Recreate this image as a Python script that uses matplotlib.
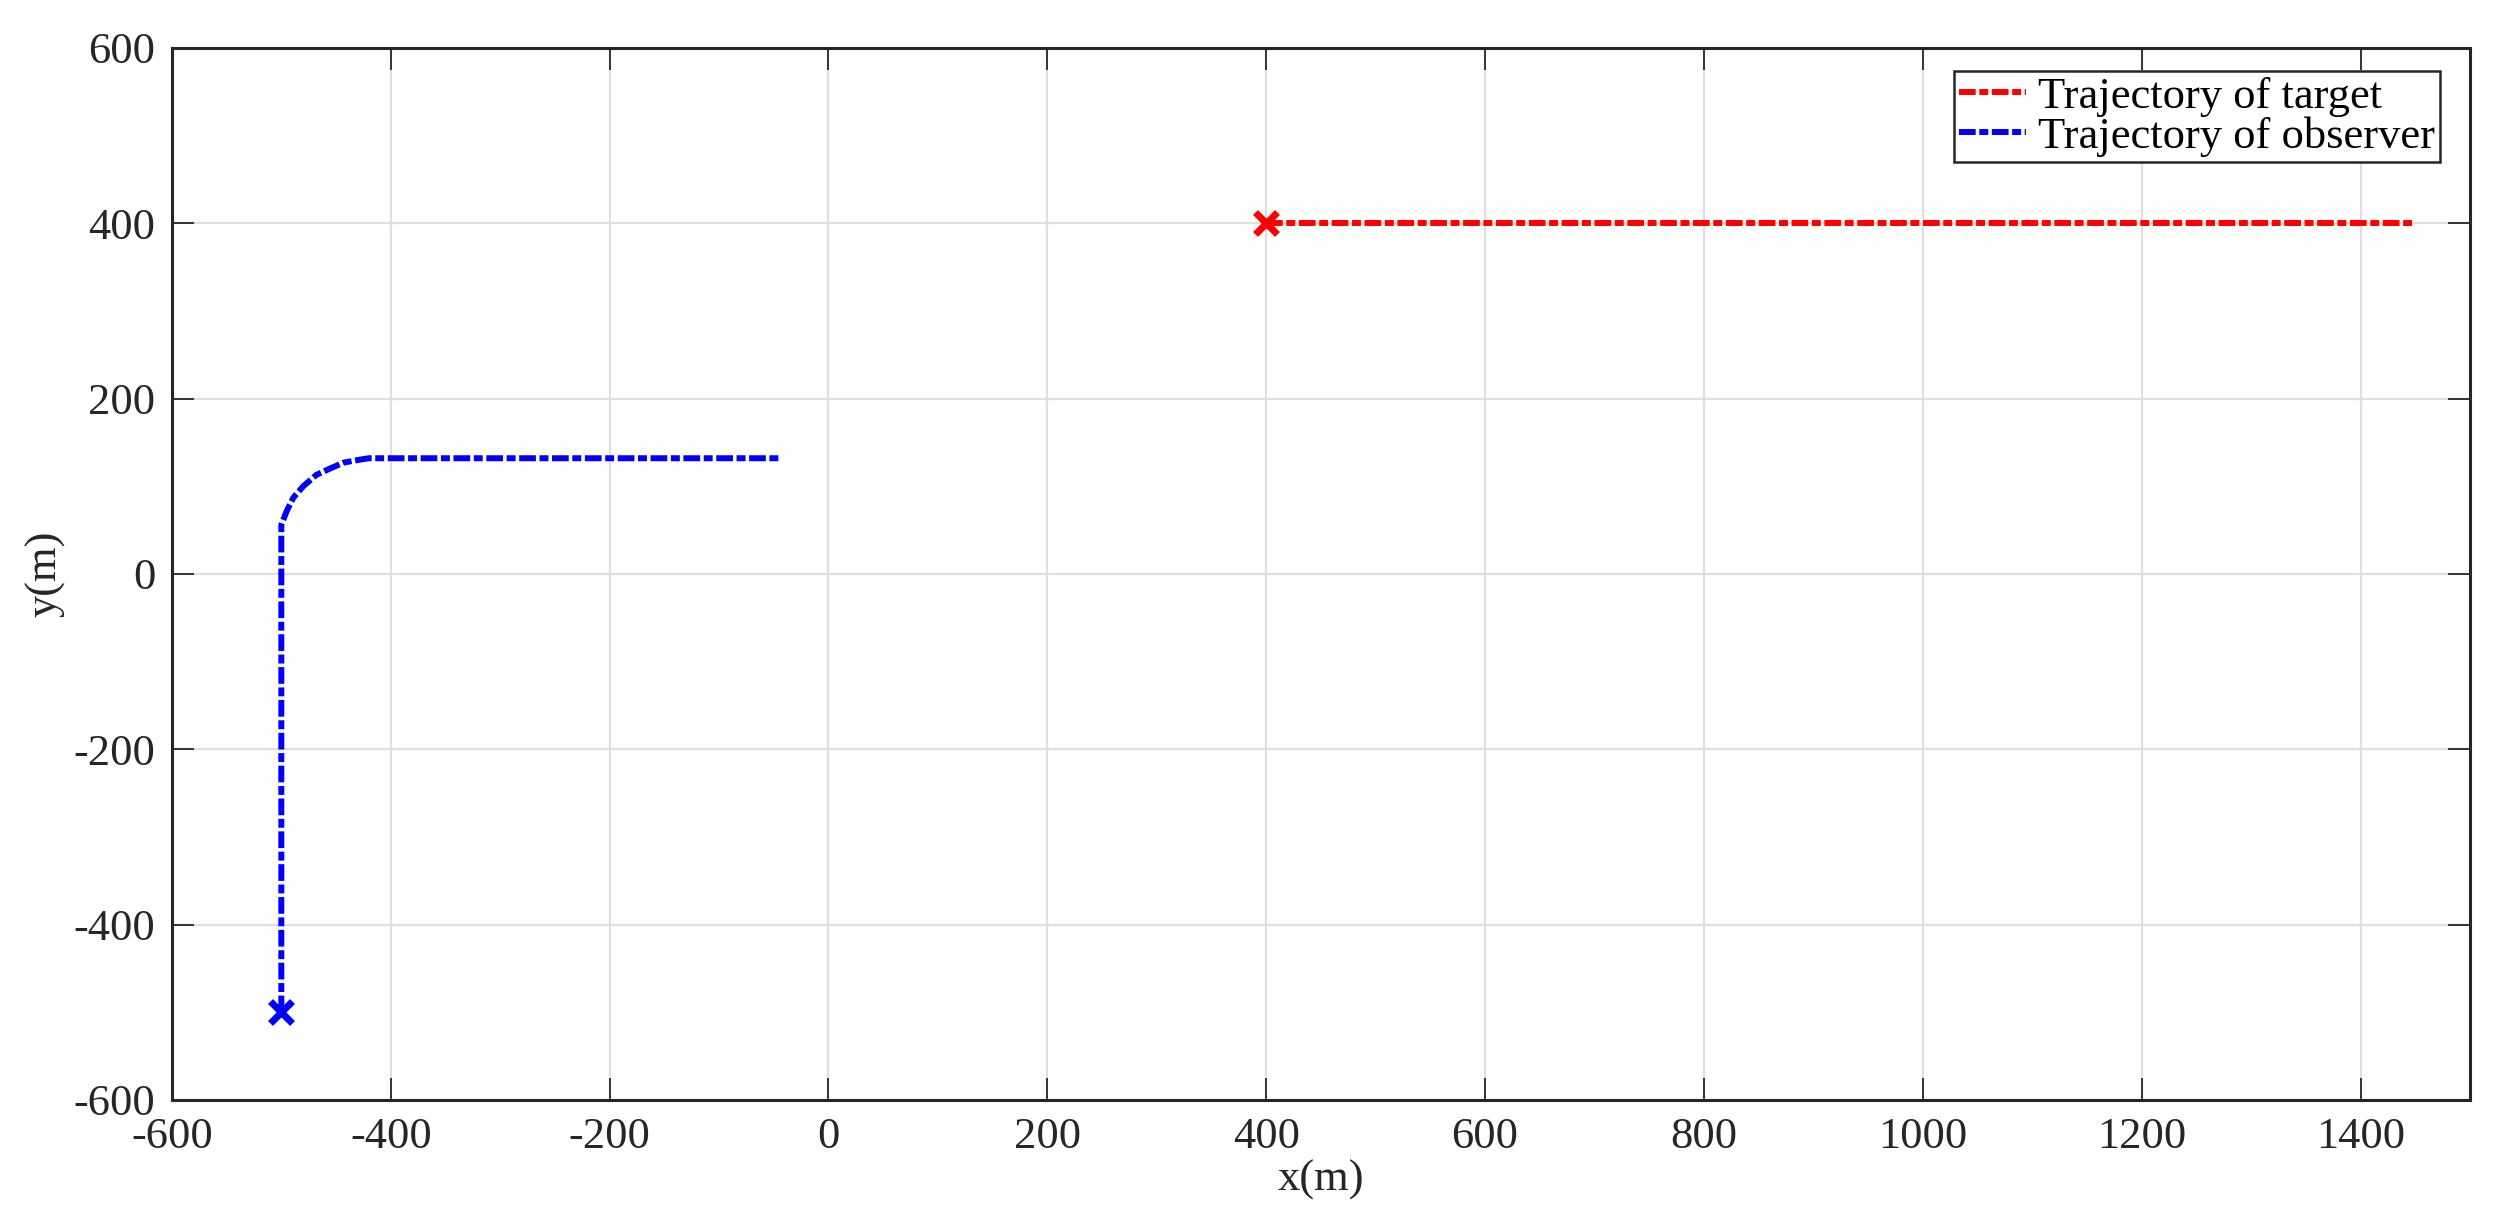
import numpy as np
import matplotlib
matplotlib.use('Agg')
import matplotlib.pyplot as plt

# target path: straight line east
target_x = [400, 1450]
target_y = [400, 400]

# observer path: north, turn, then east
obs_x = [-500, -500, -500, -500, -495, -489, -480, -468, -456, -443, -430, -420, -45]
obs_y = [-500, 0, 41, 56, 72, 87, 100, 113, 120, 127, 130, 132, 132]

xticks = [-600, -400, -200, 0, 200, 400, 600, 800, 1000, 1200, 1400]
yticks = [-600, -400, -200, 0, 200, 400, 600]

plt.rcParams['font.family'] = ['Liberation Serif', 'DejaVu Serif']
plt.rcParams['font.size'] = 32

fig = plt.figure(figsize=(25.02, 12.23), dpi=100)
ax = fig.add_axes([0.0687, 0.1006, 0.9185, 0.8602])

dash = (0, (2.8, 0.6, 1.5, 0.6))
lw = 4.3

ax.plot(target_x, target_y, color='red', lw=lw, linestyle=dash,
        dash_capstyle='butt', label='Trajectory of target')
ax.plot(obs_x, obs_y, color='blue', lw=lw, linestyle=dash,
        dash_capstyle='butt', label='Trajectory of observer')
ax.plot(target_x[0], target_y[0], marker='x', color='red', ms=16, mew=5)
ax.plot(obs_x[0], obs_y[0], marker='x', color='blue', ms=16, mew=5)

ax.set_xlim(-600, 1500)
ax.set_ylim(-600, 600)
ax.set_xticks(xticks)
ax.set_yticks(yticks)
ax.set_xticklabels([str(t) for t in xticks])
ax.set_yticklabels([str(t) for t in yticks])
ax.grid(True, color='#dfdfdf', lw=1.6)
ax.set_axisbelow(True)

ax.tick_params(direction='in', top=True, right=True, length=16, width=1.3,
               color='#262626', labelcolor='#262626', pad=12)
for s in ax.spines.values():
    s.set_linewidth(2.2)
    s.set_color('#262626')

ax.set_xlabel('x(m)', color='#262626', labelpad=2)
ax.set_ylabel('y(m)', color='#262626', labelpad=6)

leg = ax.legend(handles=ax.lines[:2], loc='upper right',
                bbox_to_anchor=(0.987, 0.978), borderaxespad=0,
                fancybox=False, framealpha=1, edgecolor='#262626',
                handlelength=1.5, handletextpad=0.27, borderpad=0.12,
                labelspacing=0.0)
leg.get_frame().set_linewidth(1.8)

fig.savefig('out.png', dpi=100)
